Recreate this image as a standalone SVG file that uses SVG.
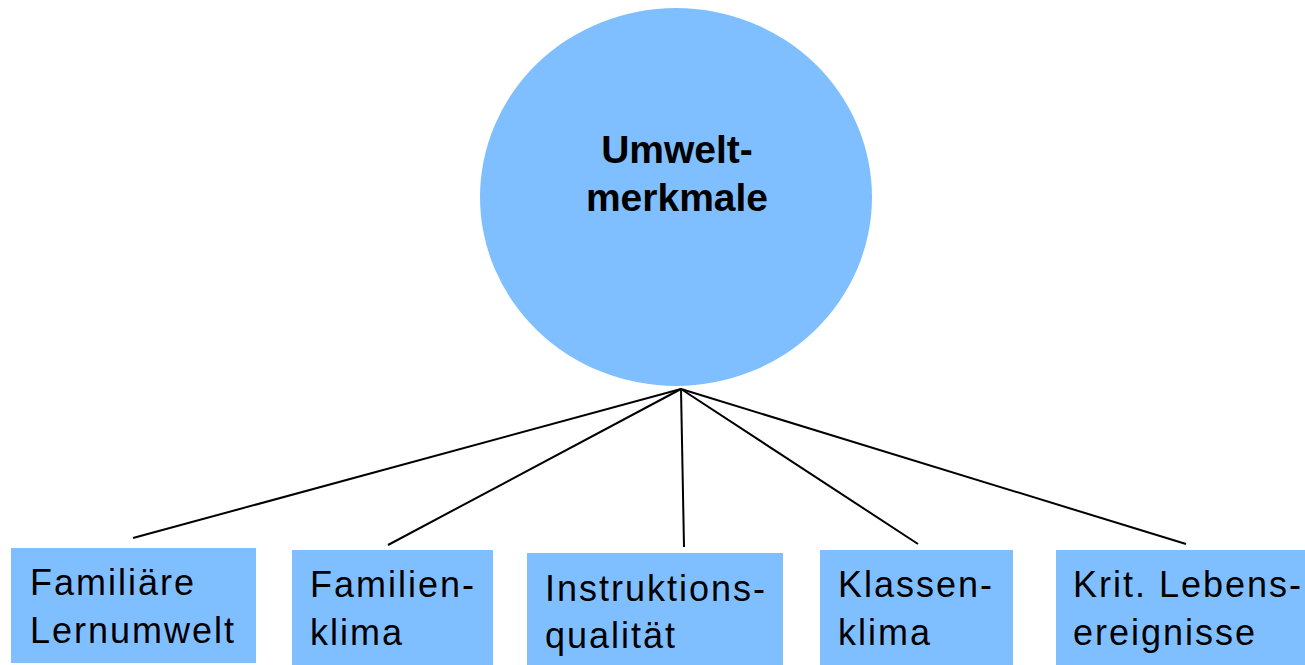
<svg xmlns="http://www.w3.org/2000/svg" width="1305" height="665" viewBox="0 0 1305 665">
<style>
.node{fill:#80BFFF;stroke:none}
.lbl{font-family:"Liberation Sans",Arial,sans-serif;font-size:36px;letter-spacing:2px;fill:#000}
.hub{font-family:"Liberation Sans",Arial,sans-serif;font-size:39px;font-weight:bold;fill:#000;text-anchor:middle}
.edge{stroke:#000;stroke-width:2;fill:none}
</style>
<rect width="1305" height="665" fill="#fff"/>
<g id="connectors">
<line class="edge" x1="681" y1="389" x2="133" y2="538"/>
<line class="edge" x1="681" y1="389" x2="388" y2="545"/>
<line class="edge" x1="681" y1="389" x2="684" y2="547"/>
<line class="edge" x1="681" y1="389" x2="918" y2="544"/>
<line class="edge" x1="681" y1="389" x2="1186" y2="544"/>
</g>
<g id="umweltmerkmale">
<ellipse class="node" cx="676" cy="197" rx="196" ry="189"/>
<text class="hub" x="677" y="163">Umwelt-</text>
<text class="hub" x="677" y="211">merkmale</text>
</g>
<g id="familiaere-lernumwelt">
<rect class="node" x="11" y="548" width="245" height="115"/>
<text class="lbl" x="30" y="595">Familiäre</text>
<text class="lbl" x="30" y="643">Lernumwelt</text>
</g>
<g id="familienklima">
<rect class="node" x="292" y="550" width="201" height="115"/>
<text class="lbl" x="310" y="597">Familien-</text>
<text class="lbl" x="310" y="645">klima</text>
</g>
<g id="instruktionsqualitaet">
<rect class="node" x="527" y="553" width="256" height="112"/>
<text class="lbl" x="545" y="601">Instruktions-</text>
<text class="lbl" x="545" y="648">qualität</text>
</g>
<g id="klassenklima">
<rect class="node" x="820" y="550" width="193" height="115"/>
<text class="lbl" x="838" y="597">Klassen-</text>
<text class="lbl" x="838" y="645">klima</text>
</g>
<g id="krit-lebensereignisse">
<rect class="node" x="1056" y="550" width="249" height="115"/>
<text class="lbl" x="1073" y="597">Krit. Lebens-</text>
<text class="lbl" x="1073" y="645">ereignisse</text>
</g>
</svg>
